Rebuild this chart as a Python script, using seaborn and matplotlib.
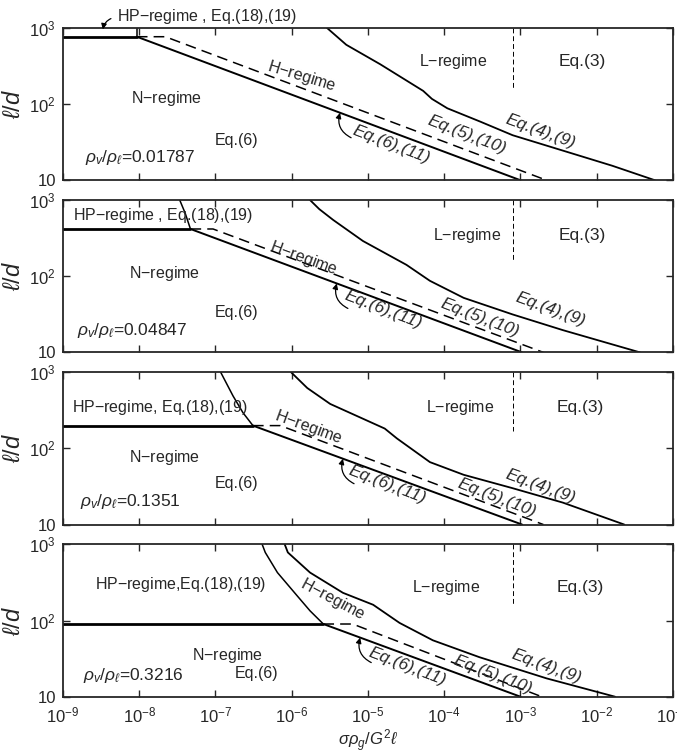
import numpy as np
import pandas as pd
import seaborn as sns
import matplotlib.pyplot as plt

# vapour/liquid density ratio of each panel
ratios = ["0.01787", "0.04847", "0.1351", "0.3216"]

# HP-regime boundary (top of panel down to the N-regime line)
hp_x = [[9.3e-9, 9.3e-9],
        [3.4e-8, 4.0e-8, 4.7e-8],
        [1.17e-7, 1.7e-7, 2.3e-7, 3.1e-7],
        [4.1e-7, 4.5e-7, 6.5e-7, 1.18e-6, 1.74e-6, 2.6e-6]]
hp_y = [[1000, 766],
        [1000, 676, 417],
        [1000, 488, 293, 199],
        [1000, 783, 426, 211, 134, 90]]

# N-regime upper limit (horizontal line) = last point of hp curve
# Eq.(6),(11) solid line
eq6_x = [[9.3e-9, 1.0e-3], [4.7e-8, 1.05e-3], [3.1e-7, 1.05e-3], [2.6e-6, 1.0e-3]]
eq6_y = [[766, 10], [417, 10], [199, 10], [90, 10]]

# Eq.(5),(10) dashed line
eq5_x = [[9.3e-9, 2.2e-8, 2.2e-3], [4.7e-8, 9.3e-8, 2.0e-3],
         [3.1e-7, 7.1e-7, 2.0e-3], [2.6e-6, 6.3e-6, 1.9e-3]]
eq5_y = [[766, 766, 10], [417, 417, 10], [199, 199, 10], [90, 90, 10]]

# Eq.(4),(9) L-regime boundary
eq4_x = [[2.9e-6, 5.2e-6, 1.45e-5, 5.3e-5, 6.9e-5, 1.1e-4, 2.95e-4, 7.9e-4, 3.6e-3, 1.6e-2, 5.8e-2],
         [1.74e-6, 2.3e-6, 3.5e-6, 8.6e-6, 3.2e-5, 6.5e-5, 1.8e-4, 7.9e-4, 3.6e-3, 3.7e-2],
         [9.8e-7, 1.6e-6, 3.2e-6, 8.6e-6, 1.66e-5, 2.4e-5, 6.5e-5, 1.8e-4, 7.9e-4, 3.6e-3, 2.3e-2],
         [8.1e-7, 8.9e-7, 1.74e-6, 4.7e-6, 1.17e-5, 2.6e-5, 7.1e-5, 2.9e-4, 2.2e-3, 1.74e-2]]
eq4_y = [[1000, 600, 333, 149, 117, 88, 59, 39, 24.5, 15.5, 10],
         [1000, 760, 548, 290, 141, 87, 52, 31.5, 19.6, 10],
         [1000, 620, 383, 245, 182, 135, 66, 45, 30, 19.4, 10],
         [1000, 783, 426, 231, 161, 93, 55, 33, 17.4, 10]]

# vertical dashed separator inside L-regime
sep_x = 8e-4
sep_bottom = [160, 164, 170, 161]

# x position where the Eq.(6),(11) arrow hits the line
arrow_x = [4.3e-6, 3.9e-6, 4.7e-6, 7.9e-6]

x_ticks = [1e-9, 1e-8, 1e-7, 1e-6, 1e-5, 1e-4, 1e-3, 1e-2, 1e-1]
x_ticklabels = [r"$10^{-9}$", r"$10^{-8}$", r"$10^{-7}$", r"$10^{-6}$", r"$10^{-5}$",
                r"$10^{-4}$", r"$10^{-3}$", r"$10^{-2}$", r"$10^{-1}$"]
y_ticks = [10, 100, 1000]
y_ticklabels = ["10", r"$10^2$", r"$10^3$"]

# label positions (axes fraction) per panel
hp_txt = ["HP$-$regime , Eq.(18),(19)", "HP$-$regime , Eq.(18),(19)",
          "HP$-$regime, Eq.(18),(19)", "HP$-$regime,Eq.(18),(19)"]
hp_pos = [(0.236, 1.072), (0.164, 0.90), (0.159, 0.77), (0.193, 0.735)]
n_pos = [(0.17, 0.535), (0.167, 0.52), (0.167, 0.44), (0.27, 0.27)]
e6_pos = [(0.285, 0.26), (0.285, 0.26), (0.285, 0.27), (0.318, 0.15)]
rho_pos = [(0.036, 0.148), (0.023, 0.144), (0.028, 0.15), (0.033, 0.14)]
h_pos = [(0.392, 0.684), (0.394, 0.62), (0.402, 0.64), (0.443, 0.64)]
h_rot = [-17, -20, -20, -28]
l_pos = [(0.639, 0.78), (0.662, 0.77), (0.651, 0.77), (0.628, 0.715)]
e3_pos = [(0.852, 0.78), (0.852, 0.77), (0.848, 0.77), (0.848, 0.715)]
e611_pos = [(0.539, 0.232), (0.525, 0.28), (0.531, 0.26), (0.564, 0.20)]
e510_pos = [(0.662, 0.297), (0.684, 0.23), (0.711, 0.175), (0.705, 0.145)]
e49_pos = [(0.782, 0.32), (0.80, 0.28), (0.782, 0.25), (0.793, 0.20)]

sns.set_style("ticks")
plt.rcParams['font.family'] = ['Liberation Sans', 'DejaVu Sans']
plt.rcParams['mathtext.fontset'] = 'custom'
plt.rcParams['mathtext.rm'] = 'Liberation Sans'
plt.rcParams['mathtext.it'] = 'Liberation Sans:italic'

fig, axes = plt.subplots(4, 1, figsize=(6.77, 7.54), dpi=100, sharex=True)
fig.subplots_adjust(left=0.093, right=0.994, top=0.963, bottom=0.076, hspace=0.13)

fs = 11.5
for i, ax in enumerate(axes):
    kw = dict(ax=ax, color="black", sort=False, estimator=None, legend=False)
    # N-regime limit
    sns.lineplot(x=[1e-9, hp_x[i][-1]], y=[hp_y[i][-1], hp_y[i][-1]], lw=2.0, **kw)
    sns.lineplot(x=hp_x[i], y=hp_y[i], lw=1.1, **kw)
    sns.lineplot(x=eq6_x[i], y=eq6_y[i], lw=1.4, **kw)
    sns.lineplot(x=eq5_x[i], y=eq5_y[i], lw=1.1, linestyle=(0, (7, 4)), **kw)
    sns.lineplot(x=eq4_x[i], y=eq4_y[i], lw=1.3, **kw)
    sns.lineplot(x=[sep_x, sep_x], y=[1000, sep_bottom[i]], lw=0.7,
                 linestyle=(0, (5, 3)), **kw)

    ax.set_xscale("log")
    ax.set_yscale("log")
    ax.set_xlim(1e-9, 1e-1)
    ax.set_ylim(10, 1000)
    ax.set_xticks(x_ticks)
    ax.set_xticklabels(x_ticklabels, fontsize=12)
    ax.set_yticks(y_ticks)
    ax.set_yticklabels(y_ticklabels, fontsize=12)
    ax.minorticks_off()
    ax.tick_params(direction="in", top=True, right=True, length=5, width=1, pad=5)
    ax.tick_params(axis="x", pad=6)
    for s in ax.spines.values():
        s.set_linewidth(1.3)
    ax.set_ylabel(r"$\ell/d$", fontsize=17)
    ax.yaxis.set_label_coords(-0.062, 0.5)

    # labels
    if i == 0:
        ax.annotate(hp_txt[i], xy=(3.3e-9, 880), xytext=hp_pos[i],
                    textcoords="axes fraction", ha="center", va="center", fontsize=fs,
                    annotation_clip=False,
                    arrowprops=dict(arrowstyle="-|>", color="black", lw=0.9,
                                    mutation_scale=8, relpos=(0, 0.5),
                                    connectionstyle="arc3,rad=0.4"))
    else:
        ax.text(*hp_pos[i], hp_txt[i], transform=ax.transAxes, ha="center",
                va="center", fontsize=fs)
    ax.text(*n_pos[i], "N$-$regime", transform=ax.transAxes, ha="center", va="center", fontsize=fs)
    ax.text(*e6_pos[i], "Eq.(6)", transform=ax.transAxes, ha="center", va="center", fontsize=fs)
    ax.text(*rho_pos[i], r"$\rho_v/\rho_\ell$" + "=" + ratios[i], transform=ax.transAxes,
            ha="left", va="center", fontsize=fs + 1)
    ax.text(*h_pos[i], "H$-$regime", transform=ax.transAxes, ha="center", va="center",
            fontsize=fs, rotation=h_rot[i], rotation_mode="anchor")
    ax.text(*l_pos[i], "L$-$regime", transform=ax.transAxes, ha="center", va="center", fontsize=fs)
    ax.text(*e3_pos[i], "Eq.(3)", transform=ax.transAxes, ha="center", va="center", fontsize=fs + 1)
    ax.text(*e611_pos[i], "Eq.(6),(11)", transform=ax.transAxes, ha="center", va="center",
            fontsize=fs + 1, rotation=-21, rotation_mode="anchor", style="italic")
    ax.text(*e510_pos[i], "Eq.(5),(10)", transform=ax.transAxes, ha="center", va="center",
            fontsize=fs + 1, rotation=-21, rotation_mode="anchor", style="italic")
    ax.text(*e49_pos[i], "Eq.(4),(9)", transform=ax.transAxes, ha="center", va="center",
            fontsize=fs + 1, rotation=-20, rotation_mode="anchor", style="italic")

    # arrow to Eq.(6),(11) line
    ly = np.interp(np.log10(arrow_x[i]), np.log10(eq6_x[i]), np.log10(eq6_y[i]))
    ax.annotate("", xy=(arrow_x[i], 10 ** ly), xytext=(8, -18), textcoords="offset points",
                arrowprops=dict(arrowstyle="-|>", color="black", lw=0.9, mutation_scale=8,
                                connectionstyle="arc3,rad=-0.4", shrinkA=0, shrinkB=0))

fig.text(0.5435, 0.018, r"$\sigma\rho_g/G^2\ell$", fontsize=12, ha="center", va="center")

fig.savefig("out.png", dpi=100)
